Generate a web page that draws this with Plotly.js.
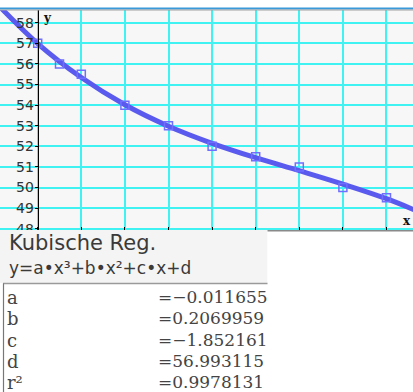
<!DOCTYPE html>
<html>
<head>
<meta charset="utf-8">
<script src="https://cdn.plot.ly/plotly-3.0.1.min.js"></script>
<style>html,body{margin:0;padding:0;background:#fff;}#chart{width:413px;height:392px;}</style>
</head>
<body>
<div id="chart"></div>
<script>
// Data points (x, y)
const dataX = [0, 0.5, 1, 2, 3, 4, 5, 6, 7, 8];
const dataY = [57, 56, 55.5, 54, 53, 52, 51.5, 51, 50, 49.5];

// Regression curve sampled from the drawn curve
const curveX = [-1, 0, 1, 2, 3, 4, 5, 6, 7, 8, 9];
const curveY = [59.06, 56.99, 55.34, 54.02, 52.98, 52.15, 51.45, 50.82, 50.17, 49.46, 48.59];

// Result panel texts
const panelTitle = "Kubische Reg.";
const panelFormula = "y=a•x³+b•x²+c•x+d";
const coefNames = ["a", "b", "c", "d", "r²"];
const coefValues = ["=−0.011655", "=0.2069959", "=−1.852161", "=56.993115", "=0.9978131"];

const W = 413, H = 392, T = 10, B = 230;
const PH = B - T;
const px = x => x / W;
const py = y => (B - y) / PH;

const traces = [
  {x: curveX, y: curveY, type: 'scatter', mode: 'lines',
   line: {color: '#5a5aee', width: 5, shape: 'spline'}, hoverinfo: 'skip'},
  {x: dataX, y: dataY, type: 'scatter', mode: 'markers',
   marker: {symbol: 'square-open', size: 8, color: '#6f6fff', line: {width: 1.5, color: '#6f6fff'}}}
];

const shapes = [
  // top decoration
  {type: 'line', xref: 'paper', yref: 'paper', x0: 0, x1: 1, y0: py(8.5), y1: py(8.5), line: {color: '#3a9ad9', width: 2}},
  {type: 'line', xref: 'paper', yref: 'paper', x0: 0, x1: 1, y0: py(10), y1: py(10), line: {color: '#a0a0a0', width: 1}},
  // lower panel backgrounds
  {type: 'rect', xref: 'paper', yref: 'paper', x0: 0, x1: px(267.5), y0: py(230), y1: py(283), fillcolor: '#f4f4f4', line: {width: 0}, layer: 'above'},
  {type: 'rect', xref: 'paper', yref: 'paper', x0: 0, x1: px(267.5), y0: py(283), y1: py(392), fillcolor: '#ffffff', line: {width: 0}, layer: 'above'},
  {type: 'rect', xref: 'paper', yref: 'paper', x0: px(267.5), x1: 1, y0: py(230), y1: py(392), fillcolor: '#ffffff', line: {width: 0}, layer: 'above'},
  {type: 'line', xref: 'paper', yref: 'paper', x0: px(267.5), x1: 1, y0: py(230.8), y1: py(230.8), line: {color: '#8a8a8a', width: 1.5}, layer: 'above'},
  {type: 'line', xref: 'paper', yref: 'paper', x0: px(3), x1: px(267.5), y0: py(283.5), y1: py(283.5), line: {color: '#9a9a9a', width: 1.5}, layer: 'above'},
  {type: 'line', xref: 'paper', yref: 'paper', x0: px(3.5), x1: px(3.5), y0: py(283.5), y1: py(392), line: {color: '#777777', width: 1.2}, layer: 'above'}
];

const annotations = [
  {xref: 'x', yref: 'y', x: 0.07, y: 58.25, text: 'y', showarrow: false, xanchor: 'left', yanchor: 'middle',
   font: {family: 'DejaVu Serif', size: 12, color: '#111', weight: 'bold'}},
  {xref: 'x', yref: 'y', x: 8.608, y: 48.37, text: 'x', showarrow: false, xanchor: 'right', yanchor: 'middle',
   font: {family: 'DejaVu Serif', size: 12, color: '#111', weight: 'bold'}},
  {xref: 'paper', yref: 'paper', x: px(7), y: py(243), text: panelTitle, showarrow: false, xanchor: 'left', yanchor: 'middle',
   font: {family: 'DejaVu Sans', size: 21, color: '#3a3a3a'}},
  {xref: 'paper', yref: 'paper', x: px(7), y: py(268), text: panelFormula, showarrow: false, xanchor: 'left', yanchor: 'middle',
   font: {family: 'DejaVu Sans', size: 17, color: '#3a3a3a'}}
];
const rowY = [297, 318, 340, 361, 382];
coefNames.forEach((n, i) => {
  annotations.push({xref: 'paper', yref: 'paper', x: px(5), y: py(rowY[i]), text: n, showarrow: false,
    xanchor: 'left', yanchor: 'middle', font: {family: 'DejaVu Serif', size: 18, color: '#444'}});
  annotations.push({xref: 'paper', yref: 'paper', x: px(156), y: py(rowY[i]), text: coefValues[i], showarrow: false,
    xanchor: 'left', yanchor: 'middle', font: {family: 'DejaVu Serif', size: 17, color: '#444'}});
});

const layout = {
  width: W, height: H,
  margin: {l: 0, r: 0, t: T, b: H - B, pad: 0},
  paper_bgcolor: '#ffffff',
  plot_bgcolor: '#f7f7f7',
  showlegend: false,
  xaxis: {range: [-0.865, 8.608], tick0: 0, dtick: 1, showgrid: true, gridcolor: '#40f2f2', gridwidth: 2,
    zeroline: false, showticklabels: false, ticks: 'inside', ticklen: 3, tickcolor: '#000', tickwidth: 1,
    showline: false, fixedrange: true},
  yaxis: {range: [47.94, 58.62], tick0: 48, dtick: 1, showgrid: true, gridcolor: '#40f2f2', gridwidth: 2,
    zeroline: false, anchor: 'free', position: 37.7 / W, showline: true, linecolor: '#000', linewidth: 1,
    ticks: 'outside', ticklen: 3, tickcolor: '#000', tickwidth: 1, ticklabelstandoff: -2,
    tickfont: {family: 'DejaVu Sans', size: 14, color: '#333'}, automargin: false, fixedrange: true},
  shapes: shapes,
  annotations: annotations
};

Plotly.newPlot('chart', traces, layout, {staticPlot: true, displayModeBar: false});
</script>
</body>
</html>
